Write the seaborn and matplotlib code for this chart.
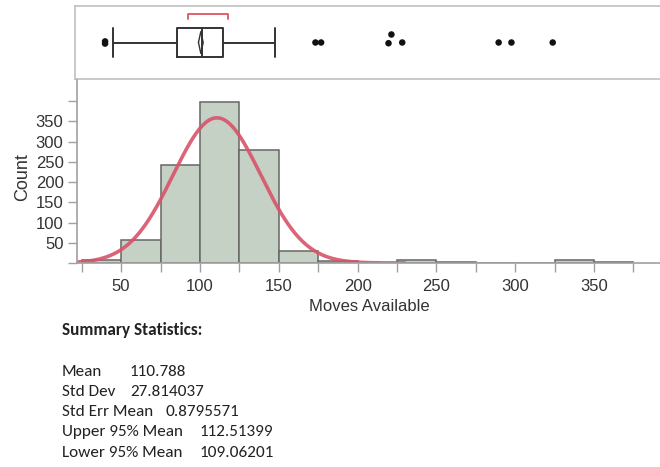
import numpy as np
import pandas as pd
import matplotlib
matplotlib.use("Agg")
import matplotlib.pyplot as plt
import seaborn as sns

# ---------------- data ----------------
bin_edges = [25, 50, 75, 100, 125, 150, 175, 200, 225, 250, 275, 300, 325, 350, 375]
bin_counts = [7, 58, 243, 398, 278, 30, 5, 0, 7, 3, 0, 0, 7, 3]

mean_val = 110.788
std_val = 27.814037
n_obs = 1000
bin_width = 25

# box plot summary (top panel)
box_whislo = 31.6
box_q1 = 80.0
box_med = 99.2
box_q3 = 115.1
box_whishi = 154.4
box_mean = 98.1
shortest_half = [88.5, 118.9]
outlier_x = [25.5, 25.5, 185.0, 189.3, 240.4, 242.6, 250.8, 323.9, 333.6, 364.9]
outlier_y = [0.03, -0.03, 0.0, 0.0, -0.02, 0.22, 0.0, 0.0, 0.0, 0.0]

x_ticks = [25, 50, 75, 100, 125, 150, 175, 200, 225, 250, 275, 300, 325, 350, 375]
x_ticklabels = ["", "50", "", "100", "", "150", "", "200", "", "250", "", "300", "", "350", ""]
y_ticks = [0, 50, 100, 150, 200, 250, 300, 350, 400]
y_ticklabels = ["", "50", "100", "150", "200", "250", "300", "350", ""]
x_label = "Moves Available"
y_label = "Count"

stats_title = "Summary Statistics:"
stats_names = ["Mean", "Std Dev", "Std Err Mean", "Upper 95% Mean", "Lower 95% Mean"]
stats_values = ["110.788", "27.814037", "0.8795571", "112.51399", "109.06201"]

# ---------------- style ----------------
sns.set_style("white")
plt.rcParams["font.family"] = ["Liberation Sans", "DejaVu Sans"]

W, H = 660, 467
fig = plt.figure(figsize=(W / 100, H / 100), dpi=100)

def ax_rect(x0, y0, x1, y1):
    return [x0 / W, 1 - y1 / H, (x1 - x0) / W, (y1 - y0) / H]

axis_grey = "#a0a0a0"
text_col = "#333333"
bar_fill = "#c5d1c5"
bar_edge = "#666666"
curve_col = "#d9536a"

# ---------------- top box plot panel ----------------
ax_box = fig.add_axes(ax_rect(75, 6, 661, 79))
ax_box.set_xlim(2.7, 447)
ax_box.set_ylim(-1, 1)
stats = [dict(whislo=box_whislo, q1=box_q1, med=box_med, q3=box_q3,
              whishi=box_whishi, fliers=[], label="")]
ax_box.bxp(stats, positions=[0], widths=0.8, vert=False, showfliers=False,
           patch_artist=False,
           boxprops=dict(color="#333333", linewidth=1.4),
           medianprops=dict(color="#333333", linewidth=1.4),
           whiskerprops=dict(color="#333333", linewidth=1.4),
           capprops=dict(color="#333333", linewidth=1.4),
           capwidths=0.8)
sns.scatterplot(x=outlier_x, y=outlier_y, ax=ax_box, color="#111111",
                s=22, edgecolor="none", legend=False)
# mean diamond
d_half = 1.8
ax_box.plot([box_mean - d_half, box_mean, box_mean + d_half, box_mean, box_mean - d_half],
            [0, 0.3, 0, -0.3, 0], color="#333333", linewidth=1.0)
# shortest half bracket
ax_box.plot([shortest_half[0], shortest_half[0], shortest_half[1], shortest_half[1]],
            [0.65, 0.78, 0.78, 0.65], color="#e0606f", linewidth=1.4)
ax_box.set_xticks([])
ax_box.set_yticks([])
for side in ["top", "bottom", "left"]:
    ax_box.spines[side].set_color("#c0c0c0")
    ax_box.spines[side].set_linewidth(1.2)
ax_box.spines["right"].set_visible(False)

# ---------------- histogram ----------------
ax = fig.add_axes(ax_rect(77, 80, 661, 263))
df = pd.DataFrame({"left": bin_edges[:-1], "count": bin_counts})
df = df.assign(mid=df["left"] + bin_width / 2)
sns.histplot(data=df, x="mid", weights="count", bins=bin_edges, ax=ax,
             color=bar_fill, edgecolor=bar_edge, linewidth=1.1, alpha=1.0)

xs = np.linspace(22, 230, 400)
ys = n_obs * bin_width / (std_val * np.sqrt(2 * np.pi)) * np.exp(-0.5 * ((xs - mean_val) / std_val) ** 2)
sns.lineplot(x=xs, y=ys, ax=ax, color=curve_col, linewidth=2.6, alpha=0.9)

ax.set_xlim(22, 392.5)
ax.set_ylim(0, 452)
ax.set_xticks(x_ticks)
ax.set_xticklabels(x_ticklabels)
ax.set_yticks(y_ticks)
ax.set_yticklabels(y_ticklabels)
ax.tick_params(axis="both", which="major", length=6.2, width=1, color=axis_grey,
               labelsize=12, labelcolor=text_col, direction="out",
               bottom=True, left=True)
ax.tick_params(axis="y", pad=3.5)
ax.tick_params(axis="x", pad=5)
ax.spines["top"].set_visible(False)
ax.spines["right"].set_visible(False)
ax.spines["left"].set_color(axis_grey)
ax.spines["bottom"].set_color(axis_grey)
ax.spines["left"].set_linewidth(1.2)
ax.spines["bottom"].set_linewidth(1.2)
ax.set_xlabel(x_label, fontsize=12, color=text_col, labelpad=4)
ax.set_ylabel(y_label, fontsize=13, color=text_col)
ax.yaxis.set_label_coords(-0.078, 0.47)

# ---------------- summary statistics text ----------------
txt_font = ["Carlito", "Lato", "DejaVu Sans"]
fig.text(62 / W, 1 - 330 / H, stats_title, fontsize=12.3, fontweight="bold",
         family=txt_font, color="#222222", va="center", ha="left")
value_x = [130, 130, 165, 200, 200]
row_y = [372, 392, 412, 432, 453]
for name, val, vx, ry in zip(stats_names, stats_values, value_x, row_y):
    fig.text(62 / W, 1 - ry / H, name, fontsize=12.3, family=txt_font,
             color="#222222", va="center", ha="left")
    fig.text(vx / W, 1 - ry / H, val, fontsize=12.3, family=txt_font,
             color="#222222", va="center", ha="left")

fig.savefig("out.png", dpi=100)
